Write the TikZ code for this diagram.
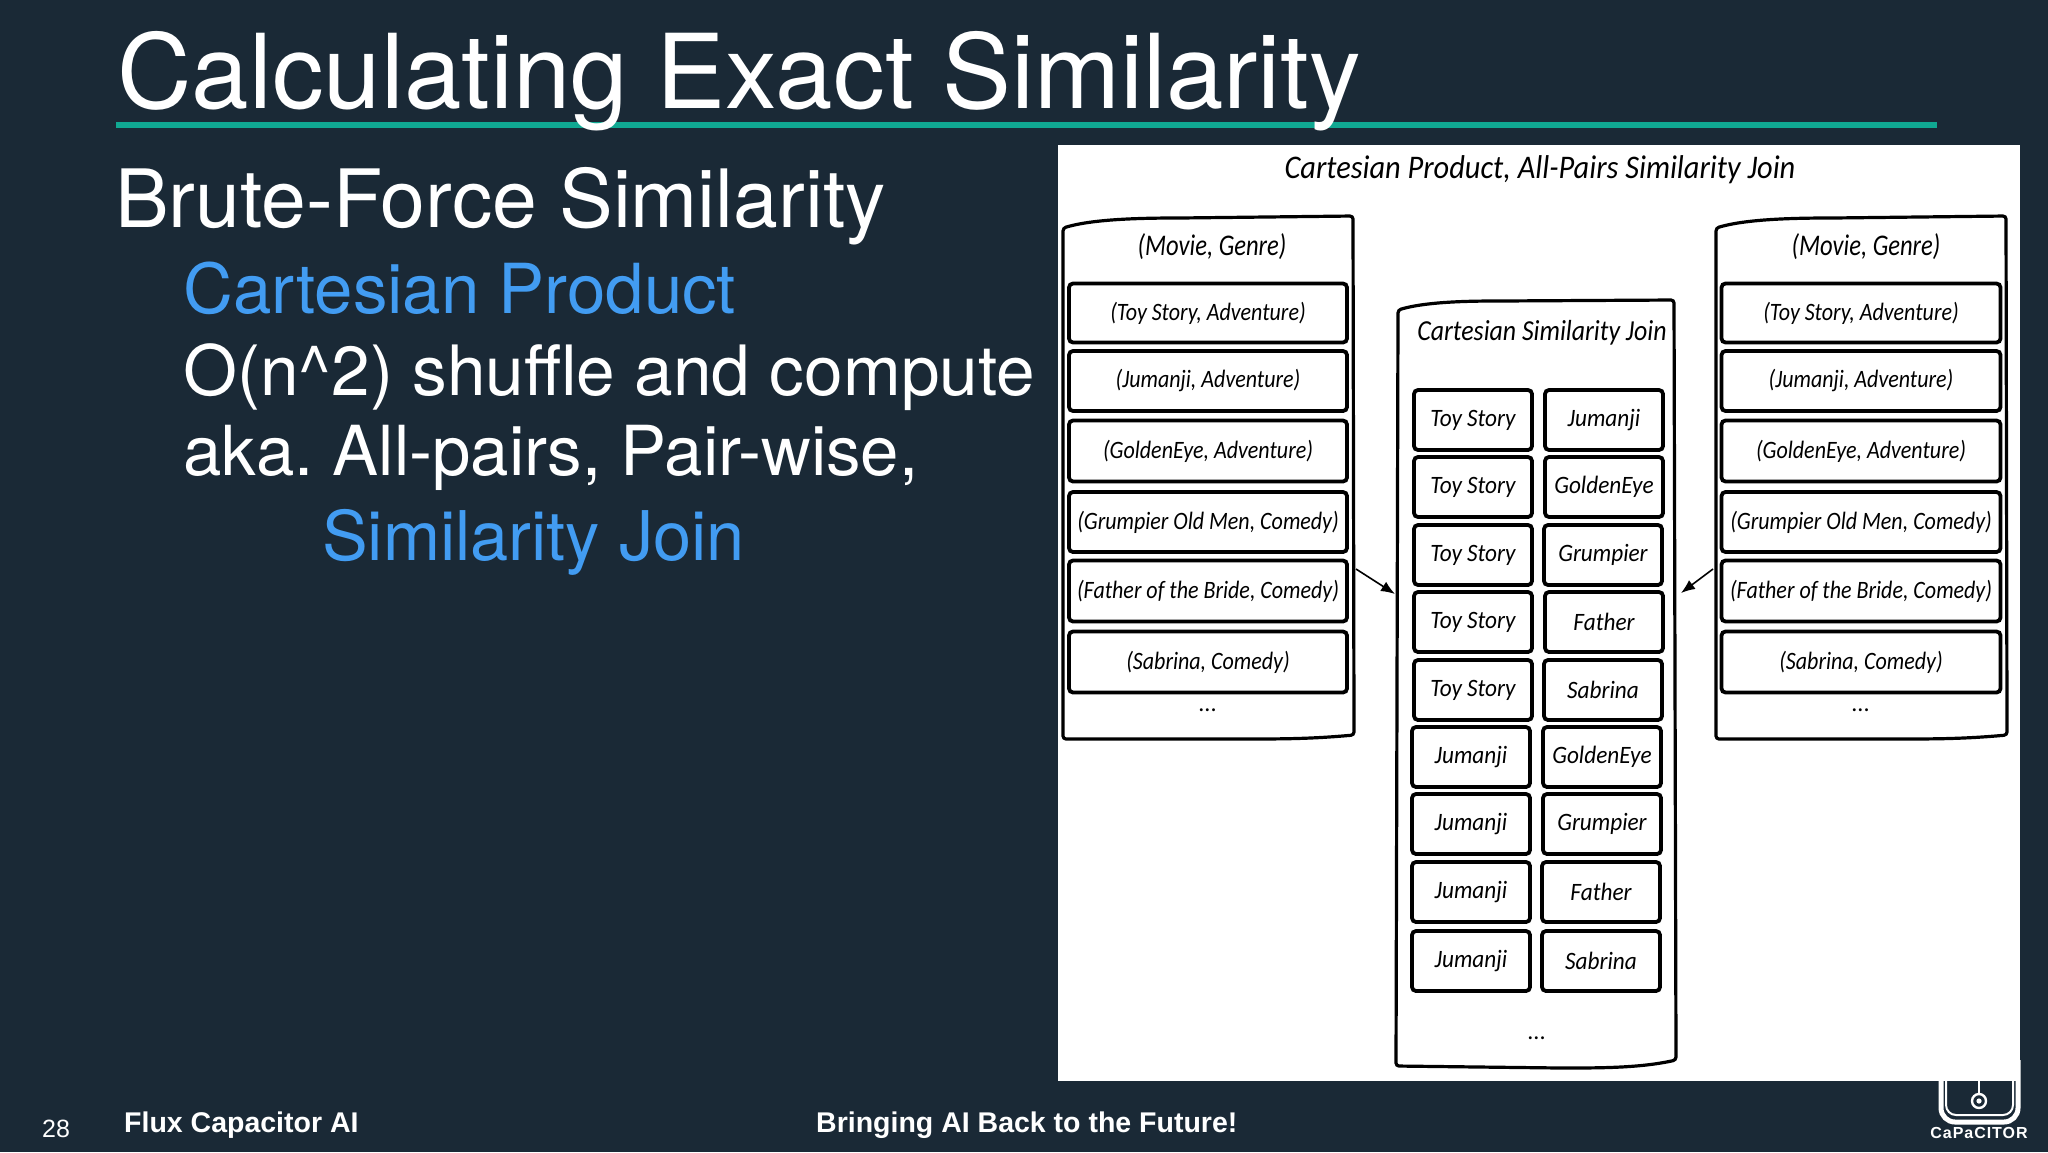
\documentclass[tikz,border=0pt]{standalone}
\usepackage{fontspec}
\setmainfont{TeX Gyre Heros}
\newfontfamily\footfont{Liberation Sans}
\newfontfamily\handfont{Carlito}
\usetikzlibrary{arrows.meta}
\definecolor{bgc}{HTML}{1A2936}
\definecolor{tealc}{HTML}{10A892}
\definecolor{bluec}{HTML}{429CF2}
\newcommand{\narrowed}[2]{\scalebox{#1}[1]{#2}}
\frenchspacing
\tikzset{
  x=1pt,y=-1pt,
  slide/.style={anchor=base west,inner sep=0pt,text=white},
  hand/.style={inner sep=0pt,text=black,font=\handfont\itshape\fontsize{#1}{#1}\selectfont},
  hand/.default=25,
  rowbox/.style={draw=black,line width=3.8pt,rounded corners=4pt,inner sep=0pt,fill=white,
    font=\handfont\itshape\fontsize{25}{25}\selectfont,text=black,align=center},
  outer/.style={draw=black,line width=3.2pt,fill=white,rounded corners=3pt},
  arrowline/.style={draw=black,line width=1.6pt,-{Latex[length=14pt,width=11pt]}},
}
\begin{document}
\begin{tikzpicture}
\useasboundingbox (0,0) rectangle (2048,1152);
\fill[bgc] (0,0) rectangle (2048,1152);
% logo (behind the white panel)
\draw[white,line width=5pt,rounded corners=14pt] (1941,1060) -- (1941,1122) -- (2018,1122) -- (2018,1060);
\draw[white,line width=2pt,rounded corners=10pt] (1946,1060) -- (1946,1115) -- (2013,1115) -- (2013,1060);
\draw[white,line width=2.2pt] (1979,1060) -- (1979,1094);
\draw[white,line width=2.4pt] (1979,1101) circle (7);
\fill[white] (1979,1101) circle (2.6);
\node[inner sep=0pt,text=white] (logotext) at (1979,1133) {\footfont\bfseries\fontsize{16}{16}\selectfont\addfontfeature{LetterSpace=6}CaPaCITOR};
% title
\draw[tealc,line width=5.5pt] (116,125) -- (1937,125);
\node[slide] (title) at (117,108) {\fontsize{103.3}{103.3}\selectfont Calculating Exact Similarity};
% body text
\node[slide] (t1) at (115,227) {\fontsize{80.5}{80.5}\selectfont Brute-Force Similarity};
\node[slide,text=bluec] (t2) at (183,313) {\fontsize{69}{69}\selectfont Cartesian Product};
\node[slide] (t3) at (183,395) {\fontsize{69.4}{69.4}\selectfont O(n\^{}2) shuffle and compute};
\node[slide] (t4) at (183,475) {\fontsize{69}{69}\selectfont aka. All-pairs, Pair-wise,};
\node[slide,text=bluec] (t5) at (322,560) {\fontsize{68.5}{68.5}\selectfont Similarity Join};
% footer
\node[slide] (pg) at (42,1137) {\footfont\fontsize{25}{25}\selectfont 28};
\node[slide] (f1) at (124,1132) {\footfont\bfseries\fontsize{28.5}{28.5}\selectfont Flux Capacitor AI};
\node[slide] (f2) at (816,1132) {\footfont\bfseries\fontsize{28.5}{28.5}\selectfont Bringing AI Back to the Future!};
% white panel
\fill[white] (1058,145) rectangle (2020,1081);
\node[hand=33] (ptitle) at (1540,170) {\narrowed{0.92}{Cartesian Product, All-Pairs Similarity Join}};
% left table
\draw[outer] (1063,228) .. controls (1090,220) and (1130,218) .. (1180,218) -- (1353,216) -- (1354,735)
  .. controls (1310,739) and (1280,739) .. (1240,739) -- (1063,739) -- cycle;
% right table
\draw[outer] (1716,228) .. controls (1743,220) and (1783,218) .. (1833,218) -- (2006,216) -- (2007,735)
  .. controls (1963,739) and (1933,739) .. (1893,739) -- (1716,739) -- cycle;
% middle table
\draw[outer] (1398,310) .. controls (1425,302) and (1465,301) .. (1500,301) -- (1674,300) -- (1676,1060)
  .. controls (1640,1068) and (1600,1068) .. (1560,1068) -- (1396,1066) -- cycle;
\node[hand=30] (lhead) at (1212,247) {\narrowed{0.82}{(Movie, Genre)}};
\node[hand=30] (rhead) at (1866,247) {\narrowed{0.82}{(Movie, Genre)}};
\node[hand=29] (mhead) at (1542,333) {\narrowed{0.89}{Cartesian Similarity Join}};
% left / right rows
\foreach \n/\y/\h/\lab in {
  1/313/59/{(Toy Story, Adventure)},
  2/381/60/{(Jumanji, Adventure)},
  3/451/61/{(GoldenEye, Adventure)},
  4/522/60/{(Grumpier Old Men, Comedy)},
  5/591/61/{(Father of the Bride, Comedy)},
  6/662/61/{(Sabrina, Comedy)}}{
  \node[rowbox,minimum width=278pt,minimum height=\h pt] (l\n) at (1208,\y) {\narrowed{0.88}{\lab}};
  \node[rowbox,minimum width=279pt,minimum height=\h pt] (r\n) at (1861,\y) {\narrowed{0.88}{\lab}};
}
\node[hand=24] (ldots) at (1208,710) {...};
\node[hand=24] (rdots) at (1861,710) {...};
\node[hand=24] (mdots) at (1537,1038) {...};
% middle cells
\foreach \n/\xa/\xb/\y/\la/\lb in {
  1/1473/1604/420/Toy Story/Jumanji,
  2/1473/1604/487/Toy Story/GoldenEye,
  3/1473/1603/555/Toy Story/Grumpier,
  4/1473/1604/622/Toy Story/Father,
  5/1473/1603/690/Toy Story/Sabrina,
  6/1471/1602/757/Jumanji/GoldenEye,
  7/1471/1602/824/Jumanji/Grumpier,
  8/1471/1601/892/Jumanji/Father,
  9/1471/1601/961/Jumanji/Sabrina}{
  \node[rowbox,minimum width=118pt,minimum height=60pt] (ma\n) at (\xa,\y) {\narrowed{0.93}{\la}};
  \node[rowbox,minimum width=118pt,minimum height=60pt] (mb\n) at (\xb,\y) {\narrowed{0.93}{\lb}};
}
% arrows
\coordinate (la) at (1356,569);
\coordinate (lb) at (1395,594);
\coordinate (ra) at (1713,569);
\coordinate (rb) at (1681,593);
\draw[arrowline] (la) -- (lb);
\draw[arrowline] (ra) -- (rb);
\end{tikzpicture}
\end{document}
